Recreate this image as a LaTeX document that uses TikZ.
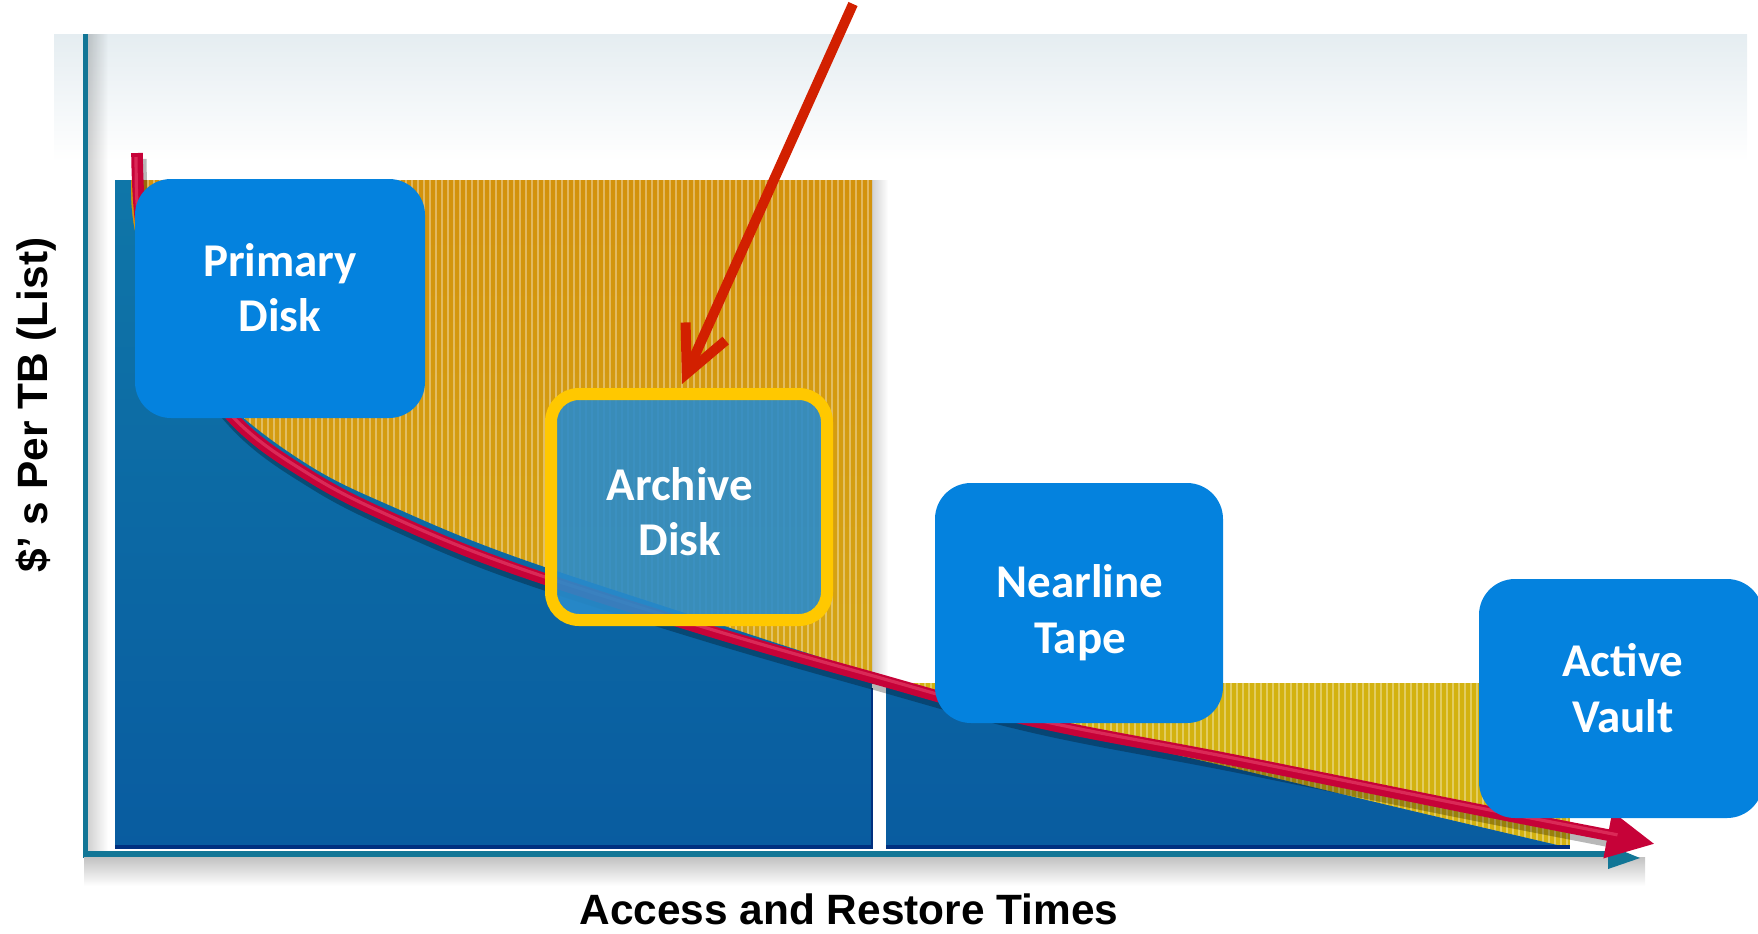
\documentclass[tikz,border=0pt]{standalone}
\usepackage{fontspec}
\setmainfont{Liberation Sans}
\newfontfamily\boxfont{Carlito}
\usetikzlibrary{arrows.meta,calc,fadings}

\definecolor{bandgray}{RGB}{229,237,241}
\definecolor{axisteal}{RGB}{18,118,150}
\definecolor{goldtop}{RGB}{211,146,12}
\definecolor{goldbot}{RGB}{214,172,24}
\definecolor{goldright}{RGB}{211,178,16}
\definecolor{bluetop}{RGB}{15,118,168}
\definecolor{bluebot}{RGB}{9,92,160}
\definecolor{navyline}{RGB}{0,48,128}
\definecolor{trendred}{RGB}{198,2,56}
\definecolor{trendlight}{RGB}{238,80,118}
\definecolor{boxblue}{RGB}{4,130,222}
\definecolor{archfill}{RGB}{41,139,203}
\definecolor{archborder}{RGB}{255,200,0}
\definecolor{pointred}{RGB}{210,32,0}

\tikzfading[name=fadeR, left color=transparent!0, right color=transparent!100]

\begin{document}
\begin{tikzpicture}[x=0.5pt,y=-0.5pt,
  tier/.style={fill=boxblue, rounded corners=18pt, inner sep=0pt},
  archbox/.style={fill=archfill, fill opacity=0.9, draw=archborder, line width=6pt,
    rounded corners=14pt, inner sep=0pt},
  tiertext/.style={anchor=base, inner sep=0pt, text=white,
    font=\boxfont\bfseries\fontsize{23.5}{28}\selectfont},
  axislabel/.style={anchor=base, inner sep=0pt,
    font=\bfseries\fontsize{21.2}{25}\selectfont},
  goldstripe/.style={draw=white, draw opacity=0.34, line width=1.4pt},
  pointer/.style={draw=pointred, line width=5pt,
    -{Straight Barb[length=23pt,width=22pt,line join=miter]}},
]
\useasboundingbox (0,0) rectangle (1758,933);

% soft band behind the top of the chart
\shade[top color=bandgray, bottom color=white] (54,34) rectangle (1747,162);

% vertical axis with its shadow
\fill[black, opacity=0.18, path fading=fadeR] (88,34) rectangle (108,858);
\draw[axisteal, line width=2.5pt] (85,34) -- (85,858);

% striped gold region, left part
\shade[top color=goldtop, bottom color=goldbot] (115,180) rectangle (872,848);
\foreach \x in {118,124,...,868} \draw[goldstripe] (\x,180) -- (\x,848);
\fill[black, opacity=0.18, path fading=fadeR] (872,180) rectangle (888,686);

% striped gold region, right part
\fill[goldright] (886,683) rectangle (1570,848);
\foreach \x in {889,895,...,1567} \draw[goldstripe] (\x,683) -- (\x,848);

% blue area under the cost curve
\shade[top color=bluetop, bottom color=bluebot]
  (115,180) -- plot[smooth, tension=0.6] coordinates {(131,180) (134,226) (155,312)
  (224,400) (310,466) (400,510) (513,556) (700,618) (870,673) (1033,721)
  (1233,768) (1400,808) (1570,848)} -- (115,848) -- cycle;
\draw[navyline, line width=2pt] (115,847) -- (1570,847);

% white divider between the two regions
\fill[white] (872,684) rectangle (886,849);
\draw[navyline, line width=0.8pt] (872,688) -- (872,849);

% horizontal axis with its shadow
\shade[top color=black!24, bottom color=white] (84,857) rectangle (1645,886);
\draw[axisteal, line width=3pt] (84,854) -- (1614,854);
\fill[axisteal] (1608,845) -- (1640,858) -- (1608,869) -- cycle;

% cost trend arrow
\begin{scope}[shift={(3,6)}]
\draw[black, opacity=0.28, line width=6.5pt, shorten >=20pt]
  plot[smooth, tension=0.6] coordinates {(137,153) (142,230) (165,320) (233,418)
  (313,478) (400,522) (513,568) (700,628) (870,677) (1033,721) (1233,760)
  (1480,810) (1655,844)};
\end{scope}
\draw[trendred, line width=5.8pt, -{Triangle[length=24pt,width=22pt]}]
  plot[smooth, tension=0.6] coordinates {(137,153) (142,230) (165,320) (233,418)
  (313,478) (400,522) (513,568) (700,628) (870,677) (1033,721) (1233,760)
  (1480,810) (1655,844)};
\draw[trendlight, opacity=0.5, line width=1.6pt, shorten >=26pt, shorten <=2pt]
  plot[smooth, tension=0.6] coordinates {(136,153) (141,230) (164,319) (232,416)
  (312,476) (399,520) (513,566) (700,626) (870,675) (1033,719) (1233,758)
  (1480,808) (1655,842)};

% storage tiers
\node[tier, minimum width=145pt, minimum height=119.5pt] (primary) at (280,298.5) {};
\node[tiertext] (primaryA) at (280,276) {Primary};
\node[tiertext] (primaryB) at (280,331) {Disk};

\node[archbox, minimum width=138pt, minimum height=113pt] (archive) at (689,507) {};
\node[tiertext] (archiveA) at (680,500) {Archive};
\node[tiertext] (archiveB) at (680,555) {Disk};

\node[tier, minimum width=144pt, minimum height=120pt] (nearline) at (1079,603) {};
\node[tiertext] (nearlineA) at (1080,597) {Nearline};
\node[tiertext] (nearlineB) at (1080,653) {Tape};

\node[tier, minimum width=142pt, minimum height=119.5pt] (vault) at (1621,698.5) {};
\node[tiertext] (vaultA) at (1623,676) {Active};
\node[tiertext] (vaultB) at (1623,732) {Vault};

% call-out arrow onto the archive tier
\coordinate (ptrsrc) at (853,4);
\draw[pointer] (ptrsrc) -- ([xshift=-3.5pt,yshift=2pt]archive.north);

% axis titles
\node[axislabel] (xlabel) at (849,924) {Access and Restore Times};
\node[axislabel, rotate=90] (ylabel) at (47,405) {\$’ s Per TB (List)};
\end{tikzpicture}
\end{document}
